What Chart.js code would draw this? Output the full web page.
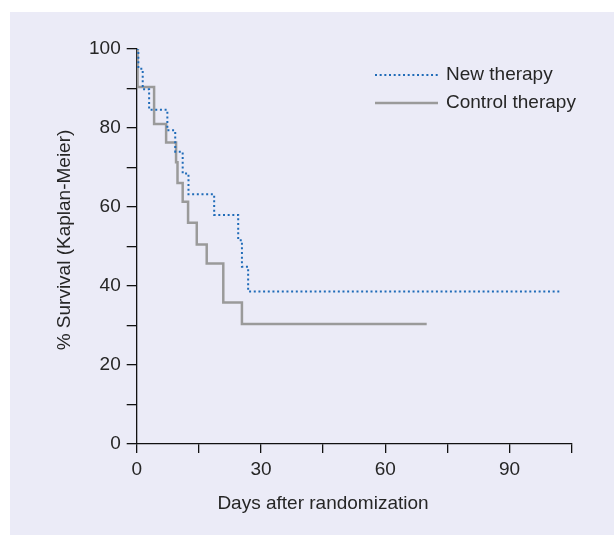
<!DOCTYPE html>
<html>
<head>
<meta charset="utf-8">
<script src="https://cdn.jsdelivr.net/npm/chart.js@4/dist/chart.umd.min.js"></script>
<style>
html,body{margin:0;padding:0;background:#ffffff;}
#wrap{position:relative;width:615px;height:535px;}
</style>
</head>
<body>
<div id="wrap"><canvas id="c" width="615" height="535"></canvas></div>
<script>
// Data (days, % survival after each drop)
const seriesNames = ["New therapy", "Control therapy"];
const newTimes = [0, 0.4, 1.45, 3.0, 7.4, 9.3, 11.1, 12.5, 18.7, 24.5, 25.4, 26.9, 102.3];
const newSurv  = [100, 95.0, 89.8, 84.6, 79.4, 74.0, 68.5, 63.2, 58.0, 51.6, 44.9, 38.6, 38.6];
const ctrlTimes = [0, 0.2, 4.2, 7.1, 9.5, 9.85, 11.1, 12.4, 14.5, 16.9, 20.9, 25.4, 70.0];
const ctrlSurv  = [100, 90.4, 81.0, 76.3, 71.3, 66.1, 61.3, 56.0, 50.5, 45.7, 35.8, 30.4, 30.4];
const xTickLabels = ["0", "30", "60", "90"];
const yTickLabels = ["0", "20", "40", "60", "80", "100"];
const xTitle = "Days after randomization";
const yTitle = "% Survival (Kaplan-Meier)";

const FONT = "'Liberation Sans', Arial, Helvetica, sans-serif";
const TXT = "#262626";

function pts(xs, ys){ return xs.map((x,i)=>({x:x, y:ys[i]})); }

const bgPlugin = {
  id:'bg',
  beforeDraw(chart){
    const ctx = chart.ctx;
    ctx.save();
    ctx.fillStyle = '#ffffff';
    ctx.fillRect(0,0,chart.width,chart.height);
    ctx.fillStyle = '#ebebf7';
    ctx.fillRect(10,12,chart.width-11,chart.height-12);
    ctx.restore();
  }
};

const decorPlugin = {
  id:'decor',
  afterDraw(chart){
    const ctx = chart.ctx;
    const ds = chart.data.datasets;
    ctx.save();
    // legend
    const rows = [75, 103];
    ds.forEach((d,i)=>{
      ctx.beginPath();
      ctx.strokeStyle = d.borderColor;
      ctx.lineWidth = d.borderWidth;
      ctx.setLineDash(d.borderDash || []);
      ctx.moveTo(375, rows[i]);
      ctx.lineTo(438, rows[i]);
      ctx.stroke();
      ctx.setLineDash([]);
      ctx.fillStyle = TXT;
      ctx.font = "19px " + FONT;
      ctx.textBaseline = 'middle';
      ctx.textAlign = 'left';
      ctx.fillText(d.label, 446, rows[i]);
    });
    // axis titles
    ctx.fillStyle = TXT;
    ctx.font = "19px " + FONT;
    ctx.textAlign = 'center';
    ctx.textBaseline = 'alphabetic';
    ctx.fillText(xTitle, 323, 509);
    ctx.translate(70, 240);
    ctx.rotate(-Math.PI/2);
    ctx.fillText(yTitle, 0, 0);
    ctx.restore();
  }
};

new Chart(document.getElementById('c'), {
  type:'line',
  data:{
    datasets:[
      {
        label: seriesNames[0],
        data: pts(newTimes, newSurv),
        stepped: 'before',
        borderColor: '#1f6bb8',
        borderWidth: 2,
        borderDash: [2, 2.67],
        pointRadius: 0,
        fill: false
      },
      {
        label: seriesNames[1],
        data: pts(ctrlTimes, ctrlSurv),
        stepped: 'before',
        borderColor: '#9a9a9a',
        borderWidth: 2.5,
        pointRadius: 0,
        fill: false
      }
    ]
  },
  options:{
    responsive:false,
    animation:false,
    layout:{padding:{left:0, top:49, right:43.3, bottom:0}},
    plugins:{legend:{display:false}, tooltip:{enabled:false}, title:{display:false}},
    scales:{
      x:{
        type:'linear', min:0, max:105,
        afterFit(s){ s.height = 91; },
        ticks:{
          stepSize:15, color:TXT, padding:5,
          font:{family:FONT, size:19},
          maxRotation:0, autoSkip:false,
          callback(v){ const s = String(v); return xTickLabels.includes(s) ? s : ''; }
        },
        grid:{display:true, drawOnChartArea:false, drawTicks:true, tickLength:9, color:'#111', lineWidth:1.3},
        border:{display:true, color:'#111', width:1.3}
      },
      y:{
        type:'linear', min:0, max:100,
        afterFit(s){ s.width = 136.7; },
        ticks:{
          stepSize:10, color:TXT, padding:6,
          font:{family:FONT, size:19},
          autoSkip:false,
          callback(v){ const s = String(v); return yTickLabels.includes(s) ? s : ''; }
        },
        grid:{display:true, drawOnChartArea:false, drawTicks:true, tickLength:10, color:'#111', lineWidth:1.3},
        border:{display:true, color:'#111', width:1.3}
      }
    }
  },
  plugins:[bgPlugin, decorPlugin]
});
</script>
</body>
</html>
